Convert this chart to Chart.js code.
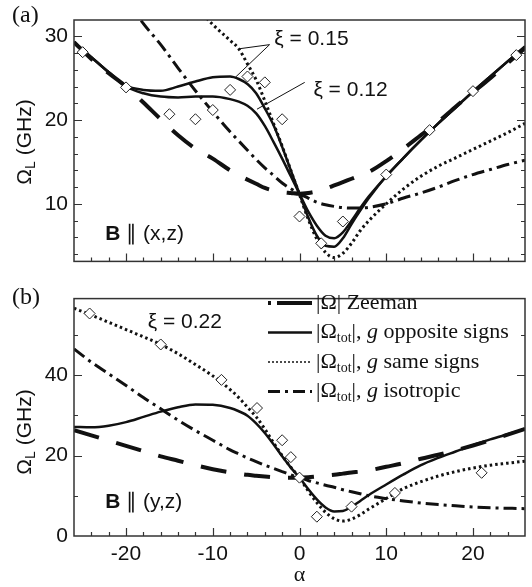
<!DOCTYPE html>
<html>
<head>
<meta charset="utf-8">
<script src="https://cdn.jsdelivr.net/npm/chart.js@4.4.0/dist/chart.umd.js"></script>
<style>
  html, body { margin: 0; padding: 0; background: #fff; }
  #wrap { position: relative; width: 532px; height: 587px; }
  canvas { position: absolute; left: 0; }
  #panelA { top: 0; }
  #panelB { top: 280px; }
</style>
</head>
<body>
<div id="wrap">
  <canvas id="panelA" width="532" height="280"></canvas>
  <canvas id="panelB" width="532" height="307"></canvas>
</div>
<script>
// angle grid (deg) shared by all computed curves
const alpha = [-26, -24, -22, -20, -18, -16, -14, -12, -10, -8, -7, -6, -5, -4, -3, -2, -1,
               0, 1, 2, 3, 4, 5, 6, 7, 8, 10, 12, 14, 16, 18, 20, 22, 24, 26];

// (a) B || (x,z)
const zeemanA = [29.3, 27.3, 25.6, 24.0, 22.1, 20.1, 18.2, 16.6, 15.4, 14.0, 13.4, 12.9, 12.4, 11.9, 11.6, 11.4, 11.3,
                 11.2, 11.3, 11.5, 11.8, 12.2, 12.6, 13.0, 13.4, 13.8, 15.1, 16.6, 18.2, 19.8, 21.6, 23.3, 25.0, 26.8, 28.6];
const opp15A  = [29.3, 27.5, 25.7, 24.1, 23.6, 23.5, 24.0, 24.6, 25.1, 25.2, 24.9, 24.3, 23.2, 21.4, 19.4, 16.8, 14.0,
                 11.2, 8.4, 6.2, 5.0, 4.9, 5.9, 7.6, 9.2, 10.7, 13.3, 15.5, 17.6, 19.6, 21.5, 23.4, 25.2, 27.0, 28.8];
const opp12A  = [29.3, 27.5, 25.7, 24.0, 23.2, 22.8, 22.7, 22.8, 22.8, 22.5, 22.2, 21.7, 20.8, 19.3, 17.4, 15.4, 13.3,
                 11.2, 9.1, 7.4, 6.2, 5.9, 6.6, 8.0, 9.5, 10.9, 13.3, 15.5, 17.6, 19.6, 21.5, 23.4, 25.2, 27.0, 28.8];
const sameA   = [null, null, null, null, null, null, null, 33.6, 31.4, 29.5, 28.5, 26.7, 24.8, 22.3, 19.6, 16.9, 14.0,
                 11.1, 8.2, 5.8, 4.2, 3.6, 4.1, 5.3, 6.8, 8.0, 10.0, 11.8, 13.3, 14.5, 15.5, 16.5, 17.5, 18.5, 19.6];
const isoA    = [null, null, null, 34.4, 31.5, 29.0, 26.2, 23.5, 21.0, 18.6, 17.5, 16.4, 15.3, 14.3, 13.4, 12.5, 11.8,
                 11.2, 10.7, 10.2, 9.9, 9.7, 9.55, 9.5, 9.5, 9.6, 10.0, 10.7, 11.3, 12.0, 12.8, 13.5, 14.1, 14.7, 15.2];
const expAlphaA = [-25, -20, -15, -12, -10, -8, -6, -4, -2, 0, 2.5, 5, 10, 15, 20, 25];
const expA      = [28.1, 23.9, 20.7, 20.1, 21.2, 23.6, 25.2, 24.5, 20.1, 8.5, 5.3, 7.9, 13.5, 18.8, 23.45, 27.75];

// (b) B || (y,z)
const zeemanB = [26.3, 25.0, 23.7, 22.4, 21.1, 19.8, 18.7, 17.6, 16.6, 15.8, 15.5, 15.2, 15.0, 14.8, 14.6, 14.5, 14.5,
                 14.5, 14.6, 14.8, 15.0, 15.2, 15.5, 15.8, 16.0, 16.3, 17.2, 18.1, 19.2, 20.2, 21.3, 22.5, 23.8, 25.2, 26.6];
const oppB    = [27.1, 27.0, 27.4, 28.3, 29.6, 30.9, 32.0, 32.7, 32.6, 31.8, 31.0, 29.9, 28.0, 25.6, 22.8, 19.8, 17.0,
                 14.5, 11.7, 9.1, 7.1, 6.1, 6.2, 7.3, 8.7, 10.2, 12.8, 15.3, 17.6, 19.4, 21.0, 22.6, 24.0, 25.3, 26.6];
const sameB   = [56.6, 54.9, 53.1, 51.3, 49.5, 47.6, 45.3, 42.6, 39.8, 36.4, 34.4, 32.0, 29.6, 26.6, 23.2, 20.0, 17.1,
                 14.5, 11.2, 8.3, 5.9, 4.3, 3.7, 4.2, 5.3, 6.7, 9.3, 11.8, 13.5, 14.9, 16.0, 16.9, 17.6, 18.1, 18.6];
const isoB    = [46.5, 43.2, 40.3, 37.4, 34.4, 31.6, 28.8, 26.2, 23.8, 21.4, 20.4, 19.4, 18.5, 17.6, 16.8, 16.0, 15.2,
                 14.5, 13.8, 13.2, 12.6, 12.1, 11.5, 11.0, 10.5, 10.0, 9.3, 8.7, 8.2, 7.8, 7.5, 7.2, 7.0, 6.9, 6.8];
const expAlphaB = [-24.2, -16, -9, -4.9, -2, -1, 0, 2, 6, 11, 21];
const expB      = [55.3, 47.6, 38.8, 31.8, 23.8, 19.6, 14.5, 4.8, 7.3, 10.7, 15.7];

// axis ticks
const xTicks = [-20, -10, 0, 10, 20];
const yTicksA = [10, 20, 30];
const yTicksB = [0, 20, 40];

const SANS = '"Liberation Sans", Arial, sans-serif';
const SERIF = '"Liberation Serif", "Times New Roman", serif';
const INK = '#111';

const STYLE = {
  zeeman: { borderWidth: 4, borderDash: [26, 18] },
  opp:    { borderWidth: 2.5, borderDash: [] },
  same:   { borderWidth: 3, borderDash: [2.5, 3] },
  iso:    { borderWidth: 3, borderDash: [13, 5, 3, 5] }
};

const toXY = (xs, ys) => xs.map((x, i) => ({ x, y: ys[i] }));

function curve(ys, style, order) {
  return {
    data: toXY(alpha, ys),
    borderColor: INK,
    borderWidth: STYLE[style].borderWidth,
    borderDash: STYLE[style].borderDash,
    pointRadius: 0,
    cubicInterpolationMode: 'monotone',
    fill: false,
    order
  };
}

function diamonds(xs, ys) {
  return {
    data: toXY(xs, ys),
    showLine: false,
    pointStyle: 'rectRot',
    pointRadius: 5.5,
    pointBorderWidth: 1,
    pointBackgroundColor: '#fff',
    pointBorderColor: '#222',
    order: 0
  };
}

// text made of runs with different fonts / vertical shifts
function runsWidth(ctx, runs) {
  let w = 0;
  for (const [t, font] of runs) { ctx.font = font; w += ctx.measureText(t).width; }
  return w;
}
function drawRuns(ctx, runs, x, y) {
  let cx = x;
  for (const [t, font, dy] of runs) {
    ctx.font = font;
    ctx.fillText(t, cx, y + (dy || 0));
    cx += ctx.measureText(t).width;
  }
}

function yTitle(ctx, cx, cy) {
  const runs = [['Ω', '21px ' + SANS], ['L', '14px ' + SANS, 6], [' (GHz)', '21px ' + SANS]];
  ctx.save();
  ctx.translate(cx, cy);
  ctx.rotate(-Math.PI / 2);
  ctx.textBaseline = 'middle';
  drawRuns(ctx, runs, -runsWidth(ctx, runs) / 2, 0);
  ctx.restore();
}

function fieldLabel(ctx, x, y, txt) {
  ctx.textBaseline = 'middle';
  drawRuns(ctx, [['B', 'bold 21px ' + SANS], [' ∥ ' + txt, '21px ' + SANS]], x, y);
}

// box around the plot and inward tick marks
const frameTicks = {
  id: 'frameTicks',
  afterDatasetsDraw(chart, args, opts) {
    const { ctx, chartArea: a, scales: { x, y } } = chart;
    ctx.save();
    ctx.strokeStyle = '#333';
    ctx.lineWidth = 1.2;
    ctx.setLineDash([]);
    ctx.beginPath();
    for (let v = -24; v <= 24; v += 2) {
      const px = Math.round(x.getPixelForValue(v)) + 0.5;
      const len = v % 10 === 0 ? 8 : 4;
      ctx.moveTo(px, a.bottom); ctx.lineTo(px, a.bottom - len);
    }
    const start = Math.ceil(y.min / opts.step) * opts.step;
    for (let v = start; v < y.max; v += opts.step) {
      if (v <= y.min) continue;
      const py = Math.round(y.getPixelForValue(v)) + 0.5;
      const len = v % opts.major === 0 ? 8 : 4;
      ctx.moveTo(a.left, py); ctx.lineTo(a.left + len, py);
      ctx.moveTo(a.right, py); ctx.lineTo(a.right - len, py);
    }
    ctx.stroke();
    ctx.lineWidth = 1.5;
    ctx.strokeRect(a.left, a.top, a.right - a.left, a.bottom - a.top);
    ctx.restore();
  }
};

const notesA = {
  id: 'notesA',
  afterDraw(chart) {
    const { ctx, chartArea: a, scales: { x, y } } = chart;
    const P = (ax, ay) => [x.getPixelForValue(ax), y.getPixelForValue(ay)];
    ctx.save();
    ctx.fillStyle = INK;
    ctx.strokeStyle = INK;

    ctx.font = '24px ' + SERIF;
    ctx.textBaseline = 'alphabetic';
    ctx.fillText('(a)', 12, 22);

    yTitle(ctx, 25, 142);

    // leader lines for the xi labels
    ctx.lineWidth = 1;
    const seg = (p, q) => { ctx.beginPath(); ctx.moveTo(...p); ctx.lineTo(...q); ctx.stroke(); };
    seg(P(-3.45, 29.0), P(-7.0, 28.5));
    seg(P(-3.45, 29.0), P(-7.4, 25.1));
    seg(P(0.6, 24.5), P(-4.9, 21.3));

    ctx.font = '21px ' + SANS;
    ctx.textBaseline = 'middle';
    ctx.fillText('ξ = 0.15', ...P(-2.9, 29.6));
    ctx.fillText('ξ = 0.12', ...P(1.6, 23.6));

    fieldLabel(ctx, x.getPixelForValue(-22.4), y.getPixelForValue(6.4), '(x,z)');
    ctx.restore();
  }
};

const notesB = {
  id: 'notesB',
  afterDraw(chart) {
    const { ctx, chartArea: a, scales: { x, y } } = chart;
    ctx.save();
    ctx.fillStyle = INK;
    ctx.strokeStyle = INK;

    ctx.font = '24px ' + SERIF;
    ctx.textBaseline = 'alphabetic';
    ctx.fillText('(b)', 12, 24);

    yTitle(ctx, 25, 152);

    ctx.font = '21px ' + SANS;
    ctx.textBaseline = 'middle';
    ctx.fillText('ξ = 0.22', x.getPixelForValue(-17.5), y.getPixelForValue(53.1));

    fieldLabel(ctx, x.getPixelForValue(-22.4), y.getPixelForValue(8.3), '(y,z)');

    // x axis title
    ctx.font = '22px ' + SERIF;
    ctx.textAlign = 'center';
    ctx.fillText('α', x.getPixelForValue(0), 295);
    ctx.textAlign = 'left';

    // legend
    const S = '22px ' + SERIF, SUB = '14px ' + SERIF, I = 'italic 22px ' + SERIF;
    const tot = (rest) => [['|Ω', S], ['tot', SUB, 6], ['|, ', S], ['g', I], [rest, S]];
    const rows = [
      { dash: [3, 6, 40], w: 4, runs: [['|Ω| Zeeman', S]] },
      { dash: [], w: 2.5, runs: tot(' opposite signs') },
      { dash: [2, 2], w: 1.5, runs: tot(' same signs') },
      { dash: [12, 5, 3, 5], w: 3, runs: tot(' isotropic') }
    ];
    const x0 = 268, x1 = 312, tx = 316;
    rows.forEach((r, i) => {
      const ry = 23 + i * 29.5;
      ctx.lineWidth = r.w;
      ctx.setLineDash(r.dash);
      ctx.beginPath(); ctx.moveTo(x0, ry); ctx.lineTo(x1, ry); ctx.stroke();
      ctx.setLineDash([]);
      ctx.textBaseline = 'middle';
      drawRuns(ctx, r.runs, tx, ry);
    });
    ctx.restore();
  }
};

function scalesFor(yMin, yMax, yTicks, showX, xHeight) {
  return {
    x: {
      type: 'linear', min: -26, max: 26,
      grid: { display: false, drawTicks: false },
      border: { display: false },
      ticks: { display: showX, color: INK, font: { family: SANS, size: 21 }, padding: 6 },
      afterBuildTicks: s => { s.ticks = xTicks.map(v => ({ value: v })); },
      afterFit: s => { s.height = xHeight; }
    },
    y: {
      type: 'linear', min: yMin, max: yMax,
      grid: { display: false, drawTicks: false },
      border: { display: false },
      ticks: { color: INK, font: { family: SANS, size: 21 }, padding: 6 },
      afterBuildTicks: s => { s.ticks = yTicks.map(v => ({ value: v })); },
      afterFit: s => { s.width = 74; }
    }
  };
}

const common = {
  responsive: false,
  animation: false,
  devicePixelRatio: 1,
  plugins: { legend: { display: false }, tooltip: { enabled: false } }
};

new Chart(document.getElementById('panelA'), {
  type: 'line',
  data: {
    datasets: [
      diamonds(expAlphaA, expA),
      curve(opp15A, 'opp', 1),
      curve(opp12A, 'opp', 1),
      curve(sameA, 'same', 2),
      curve(isoA, 'iso', 3),
      curve(zeemanA, 'zeeman', 4)
    ]
  },
  options: {
    ...common,
    layout: { padding: { top: 20, right: 7, left: 0, bottom: 0 } },
    scales: scalesFor(3.14, 31.94, yTicksA, false, 8),
    plugins: { ...common.plugins, frameTicks: { step: 2, major: 10 } }
  },
  plugins: [frameTicks, notesA]
});

new Chart(document.getElementById('panelB'), {
  type: 'line',
  data: {
    datasets: [
      diamonds(expAlphaB, expB),
      curve(oppB, 'opp', 1),
      curve(sameB, 'same', 2),
      curve(isoB, 'iso', 3),
      curve(zeemanB, 'zeeman', 4)
    ]
  },
  options: {
    ...common,
    layout: { padding: { top: 3, right: 7, left: 0, bottom: 0 } },
    scales: scalesFor(0, 59, yTicksB, true, 51),
    plugins: { ...common.plugins, frameTicks: { step: 10, major: 20 } }
  },
  plugins: [frameTicks, notesB]
});
</script>
</body>
</html>
